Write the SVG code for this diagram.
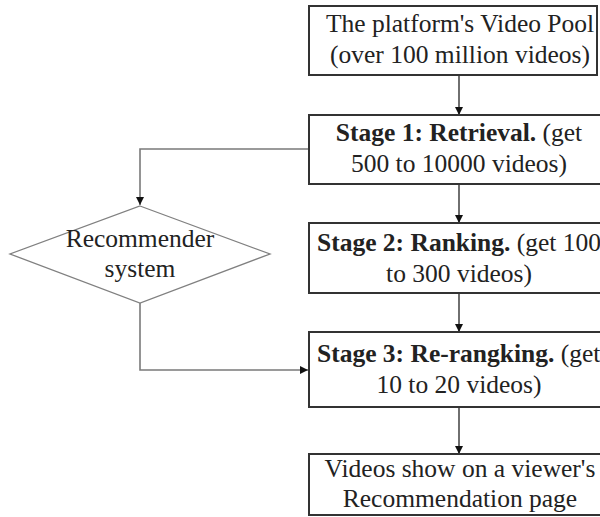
<svg xmlns="http://www.w3.org/2000/svg" width="600" height="517" viewBox="0 0 600 517">
  <style>
    .box { fill: #ffffff; stroke: #333333; stroke-width: 2; }
    .dia { fill: #ffffff; stroke: #808080; stroke-width: 1.3; }
    .t { font-family: "Liberation Serif", "Times New Roman", serif; font-size: 25.5px; fill: #222222; }
    .c { text-anchor: middle; }
    .b { font-weight: bold; }
    .flow { fill: none; stroke: #222222; stroke-width: 1.3; }
    .side { fill: none; stroke: #7a7a7a; stroke-width: 1.6; }
  </style>
  <defs>
    <marker id="arrow" viewBox="0 0 10 10" refX="10" refY="5" markerWidth="8" markerHeight="8" markerUnits="userSpaceOnUse" orient="auto">
      <path d="M0,0 L10,5 L0,10 z" fill="#111111"/>
    </marker>
  </defs>
  <rect width="600" height="517" fill="#ffffff"/>

  <g id="connectors">
    <line class="flow" x1="459" y1="75" x2="459" y2="115" marker-end="url(#arrow)"/>
    <line class="flow" x1="459" y1="184" x2="459" y2="223" marker-end="url(#arrow)"/>
    <line class="flow" x1="459" y1="293" x2="459" y2="332" marker-end="url(#arrow)"/>
    <line class="flow" x1="459" y1="407" x2="459" y2="454" marker-end="url(#arrow)"/>
    <polyline class="side" points="309,149 140,149 140,205" marker-end="url(#arrow)"/>
    <polyline class="side" points="140,303 140,370 308,370" marker-end="url(#arrow)"/>
  </g>

  <g id="video-pool">
    <rect class="box" x="309" y="6" width="288" height="69"/>
    <text class="t c" x="460" y="32">The platform's Video Pool</text>
    <text class="t c" x="460" y="63">(over 100 million videos)</text>
  </g>

  <g id="stage-1">
    <rect class="box" x="309" y="115" width="305" height="69"/>
    <text class="t c" x="459" y="141"><tspan class="b">Stage 1: Retrieval.</tspan> (get</text>
    <text class="t c" x="459" y="172">500 to 10000 videos)</text>
  </g>

  <g id="recommender">
    <polygon class="dia" points="140,206 270,254 140,303 10,254"/>
    <text class="t c" x="140" y="247">Recommender</text>
    <text class="t c" x="140" y="277">system</text>
  </g>

  <g id="stage-2">
    <rect class="box" x="309" y="223" width="305" height="70"/>
    <text class="t" x="317" y="251"><tspan class="b">Stage 2: Ranking.</tspan> (get 100</text>
    <text class="t c" x="459" y="282">to 300 videos)</text>
  </g>

  <g id="stage-3">
    <rect class="box" x="309" y="332" width="305" height="75"/>
    <text class="t" x="317" y="362"><tspan class="b">Stage 3: Re-rangking.</tspan> (get</text>
    <text class="t c" x="459" y="393">10 to 20 videos)</text>
  </g>

  <g id="recommendation-page">
    <rect class="box" x="309" y="454" width="305" height="61"/>
    <text class="t c" x="460" y="477">Videos show on a viewer's</text>
    <text class="t c" x="460" y="507">Recommendation page</text>
  </g>
</svg>
